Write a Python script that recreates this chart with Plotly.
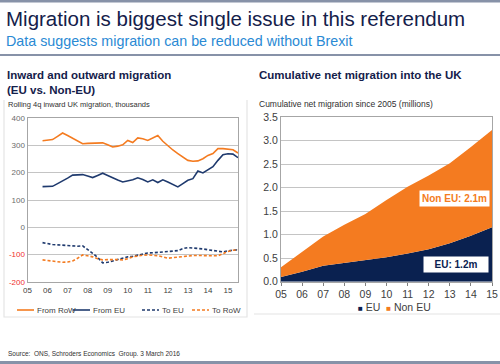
import plotly.graph_objects as go

# ---------------- data ----------------
quarters = [2005.75 + 0.25 * i for i in range(40)]
from_row = [317, 319, 321, 333, 345, 336, 327, 316, 306, 307, 308, 308, 309, 302, 294, 297,
            302, 318, 310, 327, 324, 318, 328, 336, 315, 298, 283, 270, 258, 245, 242, 243,
            251, 263, 270, 288, 288, 287, 284, 272]
from_eu = [149, 149, 150, 160, 169, 180, 191, 192, 193, 188, 182, 190, 198, 190, 180, 173,
           166, 170, 174, 181, 175, 166, 174, 164, 174, 166, 158, 148, 160, 172, 178, 206,
           199, 210, 222, 245, 266, 269, 268, 255]
to_eu = [-56, -60, -63, -64, -65, -67, -69, -69, -68, -80, -95, -110, -130, -128, -123, -118,
         -113, -108, -106, -102, -97, -94, -93, -92, -90, -88, -87, -85, -78, -74, -75, -77,
         -79, -82, -85, -88, -90, -86, -84, -82]
to_row = [-119, -121, -125, -127, -128, -127, -123, -113, -101, -104, -108, -115, -119, -118, -117, -118,
          -119, -115, -108, -104, -102, -101, -102, -104, -108, -113, -111, -109, -105, -103, -103, -103,
          -104, -104, -104, -104, -95, -88, -84, -82]

years = [2005, 2006, 2007, 2008, 2009, 2010, 2011, 2012, 2013, 2014, 2015]
year_labels = ["05", "06", "07", "08", "09", "10", "11", "12", "13", "14", "15"]
cum_eu = [0.10, 0.21, 0.34, 0.40, 0.45, 0.52, 0.60, 0.69, 0.82, 0.98, 1.16]
cum_non_eu = [0.21, 0.43, 0.62, 0.81, 0.99, 1.22, 1.42, 1.57, 1.70, 1.89, 2.07]

left_yticks = [-200, -100, 0, 100, 200, 300, 400]
right_yticks = [0.0, 0.5, 1.0, 1.5, 2.0, 2.5, 3.0, 3.5]
left_legend = ["From RoW", "From EU", "To EU", "To RoW"]
right_legend = ["EU", "Non EU"]

# ---------------- style ----------------
ORANGE = "#F47B20"
NAVY_AREA = "#0A2150"
NAVY_LINE = "#1F3A6E"
TITLE = "#14204A"
SUB = "#2A8AD4"
GRID = "#C4C4C4"
FONT = "Liberation Sans, Arial, sans-serif"
W, H = 500, 364


def px(x):
    return x / W


def py(y):
    return 1 - y / H


fig = go.Figure()

# left chart lines
fig.add_trace(go.Scatter(x=quarters, y=from_row, mode="lines", name=left_legend[0],
                         line=dict(color=ORANGE, width=1.6), xaxis="x", yaxis="y"))
fig.add_trace(go.Scatter(x=quarters, y=from_eu, mode="lines", name=left_legend[1],
                         line=dict(color=NAVY_LINE, width=1.6), xaxis="x", yaxis="y"))
fig.add_trace(go.Scatter(x=quarters, y=to_eu, mode="lines", name=left_legend[2],
                         line=dict(color=NAVY_LINE, width=1.6, dash="3px,2px"), xaxis="x", yaxis="y"))
fig.add_trace(go.Scatter(x=quarters, y=to_row, mode="lines", name=left_legend[3],
                         line=dict(color=ORANGE, width=1.6, dash="3px,2px"), xaxis="x", yaxis="y"))

# right chart stacked areas
fig.add_trace(go.Scatter(x=years, y=cum_eu, mode="lines", name=right_legend[0], stackgroup="cum",
                         line=dict(width=0, color=NAVY_AREA), fillcolor=NAVY_AREA,
                         xaxis="x2", yaxis="y2"))
fig.add_trace(go.Scatter(x=years, y=cum_non_eu, mode="lines", name=right_legend[1], stackgroup="cum",
                         line=dict(width=0, color=ORANGE), fillcolor=ORANGE,
                         xaxis="x2", yaxis="y2"))


def ytext(v):
    s = str(v)
    if v < 0:
        return "<span style='color:#F03030'>%s</span>" % s
    return s


fig.update_layout(
    template="none",
    width=W, height=H,
    margin=dict(l=0, r=0, t=0, b=0, pad=0, autoexpand=False),
    paper_bgcolor="white", plot_bgcolor="white",
    showlegend=False,
    font=dict(family=FONT, color="#404040"),
    xaxis=dict(domain=[px(27.5), px(238)], range=[2005, 2015.5], automargin=False,
               tickvals=years, ticktext=year_labels, ticks="",
               showgrid=False, zeroline=False, showline=True, linecolor="#A6A6A6",
               linewidth=1, mirror=True, tickfont=dict(size=8, color="#404040"),
               anchor="y"),
    yaxis=dict(domain=[py(282), py(118)], range=[-200, 400], automargin=False,
               tickvals=left_yticks, ticktext=[ytext(v) for v in left_yticks],
               showgrid=True, gridcolor=GRID, gridwidth=1, zeroline=False,
               showline=True, linecolor="#A6A6A6", linewidth=1, mirror=True, ticks="",
               tickfont=dict(size=8, color="#6B6B6B"), anchor="x"),
    xaxis2=dict(domain=[px(281), px(492)], range=[2005, 2015], automargin=False,
                tickvals=years, ticktext=year_labels, ticks="outside", ticklen=3,
                tickcolor="#808080", showgrid=False, zeroline=False, showline=True,
                linecolor="#A6A6A6", linewidth=1, mirror=True,
                tickfont=dict(size=10.5, color="#404040"), ticklabeloverflow="allow",
                anchor="y2"),
    yaxis2=dict(domain=[py(281.7), py(117.3)], range=[0, 3.5], automargin=False,
                tickvals=right_yticks, ticktext=["%.1f" % v for v in right_yticks],
                showgrid=True, gridcolor=GRID, gridwidth=1, zeroline=False, showline=True,
                linecolor="#A6A6A6", linewidth=1, mirror=True, ticks="",
                tickfont=dict(size=10.5, color="#404040"), anchor="x2"),
)

shapes = []
# header rules
shapes.append(dict(type="rect", xref="paper", yref="paper", x0=0, x1=1, y0=py(2.5), y1=1,
                   fillcolor="#8792A8", line=dict(width=0)))
shapes.append(dict(type="line", xref="paper", yref="paper", x0=0, x1=1, y0=py(55), y1=py(55),
                   line=dict(color="#8792A8", width=2)))
shapes.append(dict(type="rect", xref="paper", yref="paper", x0=0, x1=1, y0=0, y1=py(361),
                   fillcolor="#8792A8", line=dict(width=0)))
# left panel frame
shapes.append(dict(type="path", xref="paper", yref="paper",
                   path="M %f %f L %f %f L %f %f L %f %f" % (px(4), py(100), px(4), py(317),
                                                             px(247), py(317), px(247), py(100)),
                   line=dict(color="#E4E4E4", width=1.2)))
# right panel bottom rule
shapes.append(dict(type="line", xref="paper", yref="paper", x0=px(254), x1=1, y0=py(314), y1=py(314),
                   line=dict(color="#E4E4E4", width=1.2)))

# left legend (manual)
leg_items = [(17, ORANGE, "solid", left_legend[0]),
             (73, NAVY_LINE, "solid", left_legend[1]),
             (142, NAVY_LINE, "3px,2px", left_legend[2]),
             (192, ORANGE, "3px,2px", left_legend[3])]
annotations = []
for x0, col, dash, lab in leg_items:
    shapes.append(dict(type="line", xref="paper", yref="paper", x0=px(x0), x1=px(x0 + 17),
                       y0=py(310), y1=py(310), line=dict(color=col, width=1.6, dash=dash)))
    annotations.append(dict(x=px(x0 + 18), y=py(310), xref="paper", yref="paper", text=lab,
                            showarrow=False, xanchor="left", yanchor="middle",
                            font=dict(size=8, color="#404040")))

fig.update_layout(shapes=shapes)

annotations += [
    dict(x=px(4), y=py(18), xref="paper", yref="paper", showarrow=False, xanchor="left",
         yanchor="middle", text="Migration is biggest single issue in this referendum",
         font=dict(size=20.5, color=TITLE)),
    dict(x=px(4), y=py(41), xref="paper", yref="paper", showarrow=False, xanchor="left",
         yanchor="middle", text="Data suggests migration can be reduced without Brexit",
         font=dict(size=14.3, color=SUB)),
    dict(x=px(5), y=py(75), xref="paper", yref="paper", showarrow=False, xanchor="left",
         yanchor="middle", text="<b>Inward and outward migration</b>",
         font=dict(size=11.5, color=TITLE)),
    dict(x=px(5), y=py(90), xref="paper", yref="paper", showarrow=False, xanchor="left",
         yanchor="middle", text="<b>(EU vs. Non-EU)</b>",
         font=dict(size=11.5, color=TITLE)),
    dict(x=px(6), y=py(105), xref="paper", yref="paper", showarrow=False, xanchor="left",
         yanchor="middle", text="Rolling 4q inward UK migration, thousands",
         font=dict(size=7.5, color="#303030")),
    dict(x=px(257), y=py(75), xref="paper", yref="paper", showarrow=False, xanchor="left",
         yanchor="middle", text="<b>Cumulative net migration into the UK</b>",
         font=dict(size=11.5, color=TITLE)),
    dict(x=px(257), y=py(104), xref="paper", yref="paper", showarrow=False, xanchor="left",
         yanchor="middle", text="Cumulative net migration since 2005 (millions)",
         font=dict(size=8.5, color="#303030")),
    dict(x=px(394), y=py(307), xref="paper", yref="paper", showarrow=False, xanchor="center",
         yanchor="middle",
         text=("<span style='color:%s;font-size:8px'>■</span> %s  "
               "<span style='color:%s;font-size:8px'>■</span> %s") % (
             NAVY_AREA, right_legend[0], ORANGE, right_legend[1]),
         font=dict(size=10.5, color="#404040")),
    dict(x=px(6), y=py(354), xref="paper", yref="paper", showarrow=False, xanchor="left",
         yanchor="middle", text="Source:  ONS, Schroders Economics  Group. 3 March 2016",
         font=dict(size=6.5, color="#303030")),
    dict(x=2013.2, y=1.78, xref="x2", yref="y2", showarrow=False, xanchor="center",
         yanchor="middle", text="<b>Non EU: 2.1m</b>", bgcolor="white", borderpad=2,
         font=dict(size=10, color=ORANGE)),
    dict(x=2013.3, y=0.36, xref="x2", yref="y2", showarrow=False, xanchor="center",
         yanchor="middle", text="<b>EU: 1.2m</b>", bgcolor="white", borderpad=2, width=60,
         font=dict(size=10, color=NAVY_AREA)),
]
fig.update_layout(annotations=annotations)

fig.write_html("out.html", config={"displayModeBar": False},
               post_script="document.body.style.margin='0';document.body.style.overflow='hidden';")
